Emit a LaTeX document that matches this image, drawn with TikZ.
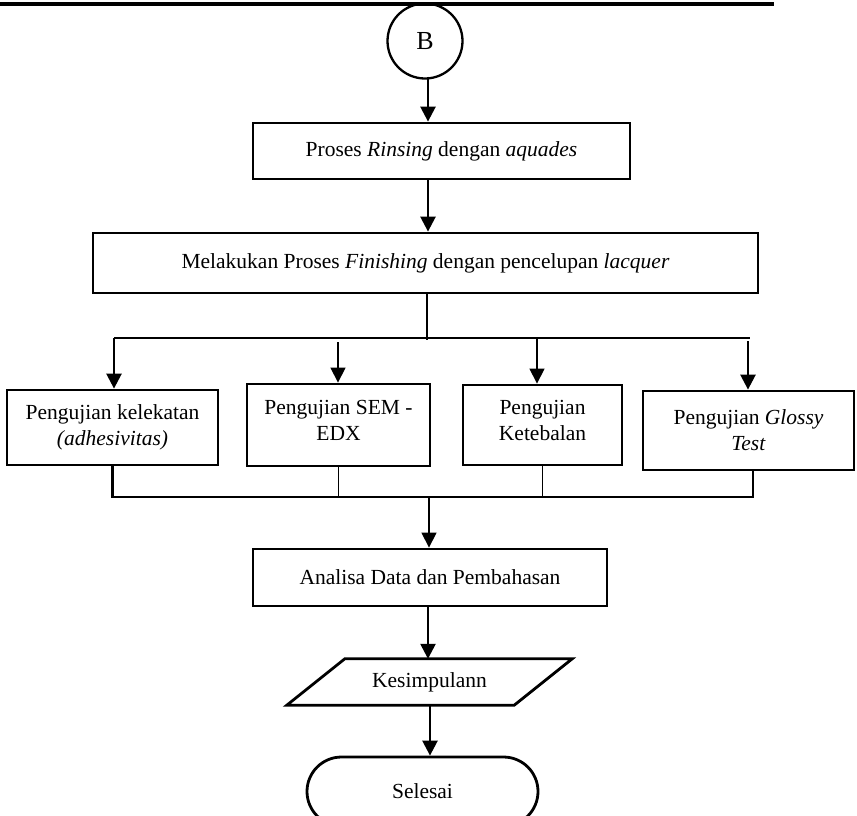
\documentclass[tikz,border=0pt]{standalone}
\usepackage{fontspec}
\setmainfont{Liberation Serif}
\usetikzlibrary{arrows.meta}
\begin{document}
\begin{tikzpicture}[x=1pt,y=-1pt,
  txt/.style={font=\fontsize{21.5}{26}\selectfont},
  box/.style={draw, line width=2.8pt, inner sep=0pt, align=center, txt},
  thk/.style={line width=2.5pt},
  thn/.style={line width=1.2pt},
  tip/.style={-{Triangle[length=15pt,width=15pt]}},
]
\useasboundingbox (0,0) rectangle (857,815);
\clip (0,0) rectangle (857,815);

% top rule
\draw[line width=4pt] (0,4) -- (774,4);

% nodes
\node[circle, draw, line width=2.3pt, minimum size=75pt, inner sep=0pt,
      font=\fontsize{26}{30}\selectfont] (cB) at (425,41) {B};
\node[box, minimum width=377pt, minimum height=56pt] (b1) at (441.5,151)
  {Proses \textit{Rinsing} dengan \textit{aquades}};
\node[box, minimum width=665pt, minimum height=60pt] (b2) at (425.5,263)
  {Melakukan Proses \textit{Finishing} dengan pencelupan \textit{lacquer}};
\node[box, minimum width=211pt, minimum height=75pt] (tA) at (112.5,427.5)
  {Pengujian kelekatan\\\textit{(adhesivitas)}};
\node[box, minimum width=183pt, minimum height=82pt, text depth=10pt] (tB) at (338.5,425)
  {Pengujian SEM -\\EDX};
\node[box, minimum width=159pt, minimum height=80pt, text depth=10pt] (tC) at (542.5,425)
  {Pengujian\\Ketebalan};
\node[box, minimum width=211pt, minimum height=79pt] (tD) at (748.5,430.5)
  {Pengujian \textit{Glossy}\\\textit{Test}};
\node[box, minimum width=354pt, minimum height=57pt] (an) at (430,577.5)
  {Analisa Data dan Pembahasan};
\node[txt, minimum width=227pt, minimum height=46pt, inner sep=0pt] (ks) at (429.5,682)
  {Kesimpulann};
\draw[line width=2.8pt, line join=miter]
  ([xshift=29pt]ks.north west) -- ([xshift=29pt]ks.north east) --
  ([xshift=-29pt]ks.south east) -- ([xshift=-29pt]ks.south west) -- cycle;
\node[box, rounded corners=34.5pt, minimum width=231pt, minimum height=69pt] (sl) at (422.5,791.5)
  {Selesai};

% helper coordinates
\coordinate (ax) at (428,0);
\coordinate (ax2) at (430,0);
\coordinate (hj) at (427,338);
\coordinate (hl) at (114,338);
\coordinate (hr) at (750,338);
\coordinate (hB) at (338,342);
\coordinate (hC) at (537,338);
\coordinate (hD) at (748,341);
\coordinate (bj) at (429,497);
\coordinate (dD) at (753,0);

% connectors
\draw[thk,tip] ([yshift=3pt]cB.south -| ax) -- (b1.north -| ax);
\draw[thk,tip] (b1.south -| ax) -- (b2.north -| ax);
\draw[thn] (b2.south -| hj) -- ([yshift=-2pt]hj);
\draw[thn] (hl) -- (hr);
\draw[thk,tip] (hl) -- (hl |- tA.north);
\draw[thn,tip] (hB) -- (hB |- tB.north);
\draw[thn,tip] (hC) -- (hC |- tC.north);
\draw[thk,tip] (hD) -- (hD |- tD.north);

\draw[thk] (tA.south) -- (tA.south |- bj) -- (dD |- bj) -- (dD |- tD.south);
\draw[thn] (tB.south) -- (tB.south |- bj);
\draw[thn] (tC.south) -- (tC.south |- bj);
\draw[thn,tip] (bj) -- (bj |- an.north);
\draw[thk,tip] (an.south -| ax) -- (ks.north -| ax);
\draw[thk,tip] (ks.south -| ax2) -- (sl.north -| ax2);
\end{tikzpicture}
\end{document}
